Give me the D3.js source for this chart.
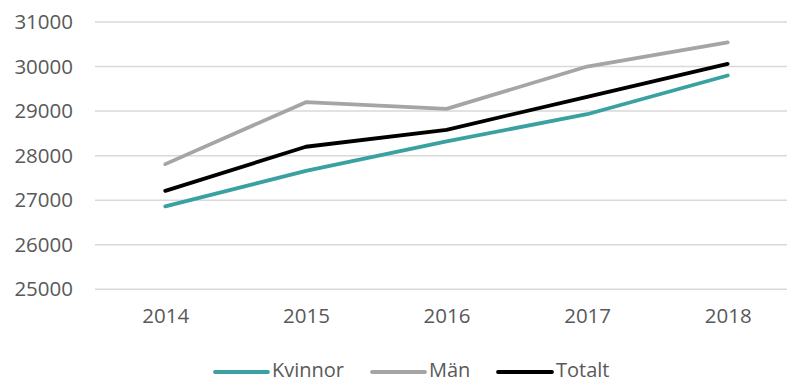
<!DOCTYPE html>
<html>
<head>
<meta charset="utf-8">
<script src="https://cdn.jsdelivr.net/npm/d3@7"></script>
<style>
  html, body { margin: 0; padding: 0; background: #fff; }
  svg { display: block; }
  text { font-family: "Open Sans", "Liberation Sans", sans-serif; fill: #595959; }
</style>
</head>
<body>
<svg id="chart" width="787" height="383"></svg>
<script>
// Years on the x axis
const years = ["2014", "2015", "2016", "2017", "2018"];

// Series values per year
const kvinnor = [26860, 27660, 28320, 28930, 29800];
const man     = [27810, 29200, 29050, 30000, 30540];
const totalt  = [27210, 28200, 28580, 29320, 30060];

// Y axis tick values
const yTicks = [25000, 26000, 27000, 28000, 29000, 30000, 31000];

const seriesNames  = ["Kvinnor", "Män", "Totalt"];
const seriesValues = [kvinnor, man, totalt];
const seriesColors = ["#3AA1A3", "#A5A5A5", "#000000"];

const svg = d3.select("#chart");

const x = d3.scalePoint()
  .domain(years)
  .range([95 + 70.3, 798 - 70.3]);

const y = d3.scaleLinear()
  .domain([25000, 31000])
  .range([289.3, 22]);

// Horizontal gridlines
svg.append("g")
  .selectAll("line")
  .data(yTicks)
  .join("line")
  .attr("x1", 95)
  .attr("x2", 798)
  .attr("y1", d => y(d))
  .attr("y2", d => y(d))
  .attr("stroke", "#D9D9D9")
  .attr("stroke-width", 1.5);

// Y axis labels
const yAxis = svg.append("g")
  .attr("transform", "translate(73,0)")
  .call(d3.axisLeft(y).tickValues(yTicks).tickFormat(d3.format("d")).tickSize(0).tickPadding(0));
yAxis.select(".domain").remove();
yAxis.selectAll("text")
  .attr("font-size", "20.5px")
  .attr("fill", "#595959")
  .style("font-family", "'Open Sans', 'Liberation Sans', sans-serif");

// X axis labels
const xAxis = svg.append("g")
  .attr("transform", "translate(0,308)")
  .call(d3.axisBottom(x).tickSize(0).tickPadding(0));
xAxis.select(".domain").remove();
xAxis.selectAll("text")
  .attr("font-size", "20.5px")
  .attr("fill", "#595959")
  .style("font-family", "'Open Sans', 'Liberation Sans', sans-serif");

// Series lines
const line = d3.line()
  .x((d, i) => x(years[i]))
  .y(d => y(d));

svg.append("g")
  .selectAll("path")
  .data(seriesValues)
  .join("path")
  .attr("d", d => line(d))
  .attr("fill", "none")
  .attr("stroke", (d, i) => seriesColors[i])
  .attr("stroke-width", 3.8)
  .attr("stroke-linejoin", "round")
  .attr("stroke-linecap", "round");

// Legend
const legendItems = [
  { x1: 215, x2: 268, tx: 272 },
  { x1: 372, x2: 425, tx: 429 },
  { x1: 498, x2: 552, tx: 556 }
];
const legend = svg.append("g");
legendItems.forEach((p, i) => {
  legend.append("line")
    .attr("x1", p.x1).attr("x2", p.x2)
    .attr("y1", 372).attr("y2", 372)
    .attr("stroke", seriesColors[i])
    .attr("stroke-width", 3.8)
    .attr("stroke-linecap", "round");
  legend.append("text")
    .attr("x", p.tx)
    .attr("y", 377)
    .attr("font-size", "20px")
    .text(seriesNames[i]);
});
</script>
</body>
</html>
